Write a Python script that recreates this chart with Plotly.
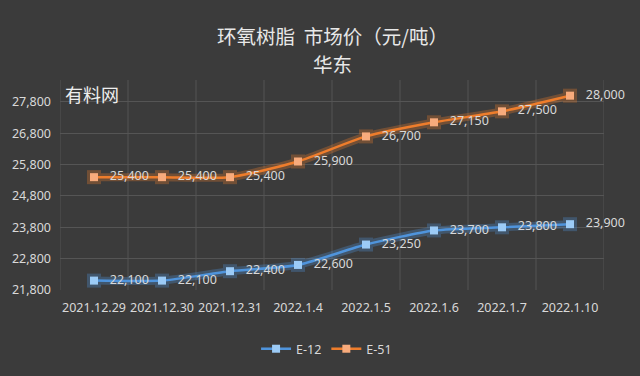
import plotly.graph_objects as go

categories = ["2021.12.29", "2021.12.30", "2021.12.31", "2022.1.4", "2022.1.5", "2022.1.6", "2022.1.7", "2022.1.10"]
e12 = [22100, 22100, 22400, 22600, 23250, 23700, 23800, 23900]
e51 = [25400, 25400, 25400, 25900, 26700, 27150, 27500, 28000]
y_ticks = [21800, 22800, 23800, 24800, 25800, 26800, 27800]
title_lines = ["环氧树脂&nbsp;&nbsp;市场价（元/吨）", "华东"]

BG = "#3b3b3b"
GRID = "#555555"
TXT = "#d9d9d9"
FONT = "Noto Sans CJK SC, DejaVu Sans, sans-serif"
NUMFONT = "Noto Sans, DejaVu Sans, sans-serif"

series = [
    ("E-12", e12, "#4f94dc", "#9ccbf6"),
    ("E-51", e51, "#ee7d2c", "#f8ab7c"),
]

fig = go.Figure()
for name, vals, lc, mc in series:
    # glow
    fig.add_trace(go.Scatter(
        x=categories, y=vals, mode="lines+markers",
        line=dict(color=lc, width=8, shape="spline", smoothing=0.6),
        marker=dict(symbol="square", size=14, color=lc),
        opacity=0.3, hoverinfo="skip", showlegend=False,
    ))
    fig.add_trace(go.Scatter(
        x=categories, y=vals, name=name, mode="lines+markers+text",
        line=dict(color=lc, width=2.5, shape="spline", smoothing=0.6),
        marker=dict(symbol="square", size=8, color=mc),
        text=[f"   {v:,}" for v in vals], textposition="middle right",
        textfont=dict(color=TXT, size=12.5, family=NUMFONT),
        cliponaxis=False,
    ))

fig.add_annotation(
    text="有料网", xref="paper", yref="paper", x=0.005, y=1.005,
    xanchor="left", yanchor="top", showarrow=False,
    font=dict(size=18, color="#eeeeee", family=FONT),
)
for txt, ypix in zip(title_lines, [35, 63]):
    fig.add_annotation(
        text=txt, xref="paper", yref="paper", x=0.5, y=(290 - ypix) / 210,
        xanchor="center", yanchor="middle", showarrow=False,
        font=dict(size=19.5, color="#e8e8e8", family=FONT),
    )

fig.update_layout(
    width=640, height=376,
    paper_bgcolor=BG, plot_bgcolor=BG,
    margin=dict(l=60, r=36, t=80, b=86, autoexpand=False),
    showlegend=True,
    legend=dict(
        orientation="h", x=0.49, xanchor="center", y=-0.21, yanchor="top",
        font=dict(size=12.5, color=TXT, family=NUMFONT),
        bgcolor="rgba(0,0,0,0)", itemwidth=30, tracegroupgap=0,
    ),
    font=dict(family=NUMFONT, color=TXT),
)

fig.update_xaxes(
    type="category", showgrid=False, zeroline=False, automargin=False,
    tickfont=dict(size=12.5, color=TXT, family=NUMFONT), ticks="", tickangle=0,
    ticklabelstandoff=8,
    range=[-0.5, len(categories) - 0.5],
)
fig.update_yaxes(
    range=[21800, 28500], tickvals=y_ticks, tickformat=",d", automargin=False,
    showgrid=True, gridcolor=GRID, gridwidth=1, zeroline=False,
    tickfont=dict(size=12.5, color=TXT, family=NUMFONT), ticks="", ticklabelstandoff=8,
)
for i in range(len(categories) + 1):
    fig.add_shape(type="line", xref="x", yref="paper", x0=i - 0.5, x1=i - 0.5,
                  y0=0, y1=1, line=dict(color=GRID, width=1), layer="below")

fig.write_html(
    "out.html",
    config={"displayModeBar": False},
    post_script="document.body.style.margin='0';document.body.style.background='#3b3b3b';",
)
